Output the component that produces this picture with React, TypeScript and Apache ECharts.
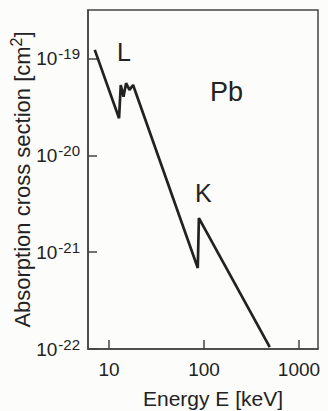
import React, { useEffect, useRef } from "react";
import * as echarts from "echarts";

// Photoabsorption cross section of Pb
const energyKeV = [7.07, 12.74, 13.28, 14.19, 15.1, 16.4, 17.9, 85.9, 88.3, 492];
const crossSectionCm2 = [1.225e-19, 2.41e-20, 5.32e-20, 4.03e-20, 5.55e-20, 4.73e-20, 5.32e-20, 6.85e-22, 2.25e-21, 1.047e-22];

const xTickValues = [10, 100, 1000];
const yTickExponents = [-22, -21, -20, -19];

const xRange = [6, 1585];
const yRange = [-22, -18.5];

const FONT = "'Liberation Sans', Arial, Helvetica, sans-serif";
const INK = "#222";
const FRAME = "#444";

export default function App() {
  const ref = useRef<HTMLDivElement>(null);
  useEffect(() => {
    if (!ref.current) return;
    const chart = echarts.init(ref.current, undefined, { renderer: "svg" });
    const data = energyKeV.map((e, i) => [Math.log10(e), Math.log10(crossSectionCm2[i])]);
    chart.setOption({
      animation: false,
      backgroundColor: "#fcfcfb",
      grid: {
        left: 88,
        right: 10,
        top: 10,
        bottom: 62,
        containLabel: false,
        outerBoundsMode: "none",
        show: true,
        borderColor: FRAME,
        borderWidth: 1.5,
        backgroundColor: "transparent",
      },
      xAxis: {
        type: "value",
        min: Math.log10(xRange[0]),
        max: Math.log10(xRange[1]),
        name: "Energy E [keV]",
        nameLocation: "middle",
        nameGap: 39,
        nameMoveOverlap: false,
        nameTextStyle: { fontFamily: FONT, fontSize: 21, color: INK, padding: [0, 0, 0, 20] },
        axisLine: { show: true, lineStyle: { color: FRAME, width: 1.5 } },
        axisTick: {
          show: true,
          inside: true,
          length: 9,
          customValues: xTickValues.map((v) => Math.log10(v)),
          lineStyle: { color: FRAME, width: 1.5 },
        },
        axisLabel: {
          customValues: xTickValues.map((v) => Math.log10(v)),
          formatter: (v: number) => String(Math.round(Math.pow(10, v))),
          fontFamily: FONT,
          fontSize: 19,
          color: INK,
          margin: 11,
        },
        splitLine: { show: false },
      },
      yAxis: {
        type: "value",
        min: yRange[0],
        max: yRange[1],
        name: "{n|Absorption cross section [cm}{s|2}{n|]}",
        nameLocation: "middle",
        nameGap: 52,
        nameMoveOverlap: false,
        nameTextStyle: {
          fontFamily: FONT,
          color: INK,
          rich: {
            n: { fontFamily: FONT, fontSize: 22, color: INK },
            s: { fontFamily: FONT, fontSize: 16, color: INK, padding: [0, 0, 12, 0] },
          },
        },
        axisLine: { show: true, lineStyle: { color: FRAME, width: 1.5 } },
        axisTick: {
          show: true,
          inside: true,
          length: 9,
          customValues: yTickExponents,
          lineStyle: { color: FRAME, width: 1.5 },
        },
        axisLabel: {
          customValues: yTickExponents,
          formatter: (v: number) => `{b|10}{s|${v}}`,
          margin: 8,
          rich: {
            b: { fontFamily: FONT, fontSize: 19, color: INK },
            s: { fontFamily: FONT, fontSize: 15, color: INK, padding: [0, 0, 10, 1] },
          },
        },
        splitLine: { show: false },
      },
      graphic: [
        { type: "text", x: 117, y: 52, style: { text: "L", font: `25px ${FONT}`, fill: INK, textVerticalAlign: "middle" } },
        { type: "text", x: 195, y: 193, style: { text: "K", font: `25px ${FONT}`, fill: INK, textVerticalAlign: "middle" } },
        { type: "text", x: 210, y: 92, style: { text: "Pb", font: `27px ${FONT}`, fill: INK, textVerticalAlign: "middle" } },
      ],
      series: [
        {
          type: "line",
          data,
          symbol: "none",
          lineStyle: { color: INK, width: 2.7 },
          clip: true,
        },
      ],
    });
    return () => chart.dispose();
  }, []);
  return <div ref={ref} style={{ position: "fixed", left: 0, top: 0, width: 328, height: 411 }} />;
}
